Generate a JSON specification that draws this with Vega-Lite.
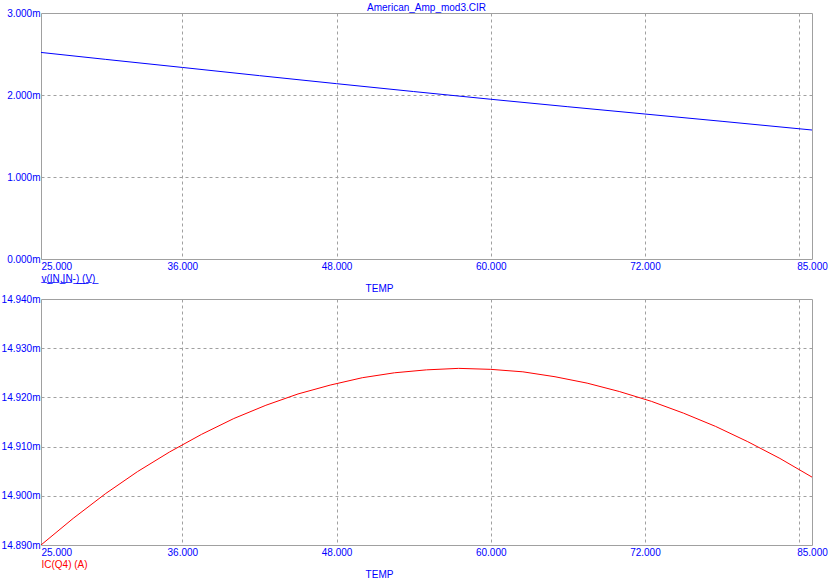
{
  "$schema": "https://vega.github.io/schema/vega-lite/v6.json",
  "background": "white",
  "padding": {"left": 0, "top": 2, "right": 0, "bottom": 0},
  "title": {"text": "American_Amp_mod3.CIR", "fontSize": 10, "font": "Liberation Sans", "fontWeight": "normal", "color": "#0000ff", "anchor": "middle", "frame": "group", "offset": -5},
  "config": {
    "view": {"stroke": "#a0a0a0", "strokeWidth": 1},
    "font": "Liberation Sans",
    "axis": {
      "ticks": false, "tickSize": 0, "domain": false, "grid": true,
      "gridColor": "#a0a0a0", "gridDash": [3, 3], "gridWidth": 1,
      "labelColor": "#0000ff", "labelFontSize": 10, "labelFont": "Liberation Sans",
      "labelOverlap": false, "labelFlush": false, "labelBound": false,
      "titleFontSize": 10, "titleFontWeight": "normal", "titleFont": "Liberation Sans"
    }
  },
  "bounds": "flush",
  "spacing": 40,
  "datasets": {
    "vin": [
      {"temp": 25, "v": 0.002519},
      {"temp": 30, "v": 0.002435},
      {"temp": 36, "v": 0.002336},
      {"temp": 42, "v": 0.002236},
      {"temp": 48, "v": 0.002138},
      {"temp": 54, "v": 0.002042},
      {"temp": 60, "v": 0.001948},
      {"temp": 66, "v": 0.001857},
      {"temp": 72, "v": 0.001768},
      {"temp": 78, "v": 0.001679},
      {"temp": 85, "v": 0.001573}
    ],
    "icq4": [
      {"temp": 25, "ic": 0.0148900},
      {"temp": 27.5, "ic": 0.0148954},
      {"temp": 30, "ic": 0.0149004},
      {"temp": 32.5, "ic": 0.0149049},
      {"temp": 35, "ic": 0.0149089},
      {"temp": 37.5, "ic": 0.0149125},
      {"temp": 40, "ic": 0.0149157},
      {"temp": 42.5, "ic": 0.0149184},
      {"temp": 45, "ic": 0.0149207},
      {"temp": 47.5, "ic": 0.0149225},
      {"temp": 50, "ic": 0.0149240},
      {"temp": 52.5, "ic": 0.0149250},
      {"temp": 55, "ic": 0.0149256},
      {"temp": 57.5, "ic": 0.0149259},
      {"temp": 60, "ic": 0.0149257},
      {"temp": 62.5, "ic": 0.0149252},
      {"temp": 65, "ic": 0.0149242},
      {"temp": 67.5, "ic": 0.0149229},
      {"temp": 70, "ic": 0.0149212},
      {"temp": 72.5, "ic": 0.0149192},
      {"temp": 75, "ic": 0.0149168},
      {"temp": 77.5, "ic": 0.0149141},
      {"temp": 80, "ic": 0.0149110},
      {"temp": 82.5, "ic": 0.0149076},
      {"temp": 85, "ic": 0.0149038}
    ]
  },
  "vconcat": [
    {
      "width": 771,
      "height": 246,
      "data": {"name": "vin"},
      "mark": {"type": "line", "color": "#0000ff", "strokeWidth": 1, "clip": true},
      "encoding": {
        "x": {
          "field": "temp", "type": "quantitative",
          "scale": {"domain": [25, 85], "nice": false, "zero": false},
          "axis": {
            "title": "TEMP", "values": [25, 36, 48, 60, 72, 84, 85],
            "labelExpr": "datum.value == 84 ? '' : format(datum.value, '.3f')",
            "labelAlign": {"condition": {"test": "datum.value == 25", "value": "left"}, "value": "center"},
            "labelPadding": 2,
            "gridOpacity": {"condition": {"test": "datum.value == 25 || datum.value == 85", "value": 0}, "value": 1},
            "titleColor": "#0000ff", "titleX": 338, "titleY": 32, "titleAlign": "center", "titleBaseline": "alphabetic"
          }
        },
        "y": {
          "field": "v", "type": "quantitative",
          "scale": {"domain": [0, 0.003], "nice": false, "zero": false},
          "axis": {
            "title": "v\u0332(\u0332I\u0332N\u0332,\u0332I\u0332N\u0332-\u0332)\u0332 \u0332(\u0332V\u0332)\u0332", "values": [0, 0.001, 0.002, 0.003],
            "labelExpr": "format(datum.value * 1000, '.3f') + 'm'",
            "labelPadding": 1, "labelBaseline": "middle",
            "gridOpacity": {"condition": {"test": "datum.value < 0.0005 || datum.value > 0.0025", "value": 0}, "value": 1},
            "titleAngle": 0, "titleX": 0, "titleY": 268, "titleAlign": "left", "titleBaseline": "alphabetic", "titleColor": "#0000ff"
          }
        }
      }
    },
    {
      "width": 771,
      "height": 246,
      "data": {"name": "icq4"},
      "mark": {"type": "line", "color": "#ff0000", "strokeWidth": 1, "clip": true},
      "encoding": {
        "x": {
          "field": "temp", "type": "quantitative",
          "scale": {"domain": [25, 85], "nice": false, "zero": false},
          "axis": {
            "title": "TEMP", "values": [25, 36, 48, 60, 72, 84, 85],
            "labelExpr": "datum.value == 84 ? '' : format(datum.value, '.3f')",
            "labelAlign": {"condition": {"test": "datum.value == 25", "value": "left"}, "value": "center"},
            "labelPadding": 2,
            "gridOpacity": {"condition": {"test": "datum.value == 25 || datum.value == 85", "value": 0}, "value": 1},
            "titleColor": "#0000ff", "titleX": 338, "titleY": 32, "titleAlign": "center", "titleBaseline": "alphabetic"
          }
        },
        "y": {
          "field": "ic", "type": "quantitative",
          "scale": {"domain": [0.01489, 0.01494], "nice": false, "zero": false},
          "axis": {
            "title": "IC(Q4) (A)", "values": [0.01489, 0.0149, 0.01491, 0.01492, 0.01493, 0.01494],
            "labelExpr": "format(datum.value * 1000, '.3f') + 'm'",
            "labelPadding": 1, "labelBaseline": "middle",
            "gridOpacity": {"condition": {"test": "datum.value < 0.014895 || datum.value > 0.014935", "value": 0}, "value": 1},
            "titleAngle": 0, "titleX": 0, "titleY": 268, "titleAlign": "left", "titleBaseline": "alphabetic", "titleColor": "#ff0000"
          }
        }
      }
    }
  ]
}
